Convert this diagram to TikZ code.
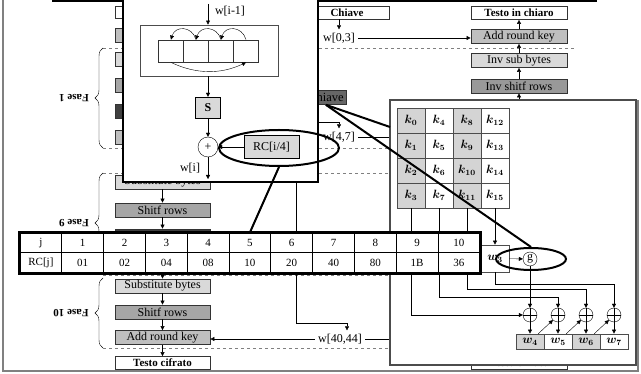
\documentclass[tikz,border=0pt]{standalone}
\usepackage{fontspec}
\setmainfont{Liberation Serif}
\usepackage{bm}
\usetikzlibrary{arrows.meta,calc,shapes.geometric,decorations.pathreplacing}

\definecolor{lgray}{gray}{0.85}
\definecolor{mgray}{gray}{0.65}
\definecolor{dgray}{gray}{0.25}
\definecolor{agray}{gray}{0.75}
\definecolor{igray}{gray}{0.6}
\definecolor{kgray}{gray}{0.4}
\definecolor{cgray}{gray}{0.83}

\begin{document}
\begin{tikzpicture}[x=1pt,y=-1pt,>={Triangle[length=4pt,width=4pt]},
   font=\fontsize{12}{13}\selectfont,
   box/.style={draw=black!80, line width=0.7pt, minimum width=95pt, minimum height=14pt, inner sep=0pt},
   titlebox/.style={box, fill=white, minimum height=13pt, font=\bfseries\fontsize{11}{12}\selectfont},
   cell/.style={draw=black!70, line width=0.7pt, minimum width=28pt, minimum height=25pt, inner sep=0pt},
   tcell/.style={draw, line width=1pt, fill=white, minimum width=41.8pt, minimum height=20pt, inner sep=0pt, font=\fontsize{11}{12}\selectfont},
   xorc/.style={circle, draw, minimum size=14pt, inner sep=0pt,
      path picture={\draw (path picture bounding box.north) -- (path picture bounding box.south)
                          (path picture bounding box.west) -- (path picture bounding box.east);}},
   sep/.style={dashed, gray, line width=0.5pt},
   fase/.style={rotate=180, font=\bfseries\fontsize{11}{12}\selectfont},
   zoomline/.style={line width=2pt}]

   \useasboundingbox (0,0) rectangle (641,374);

   \draw[line width=3pt] (52,1) -- (597,1);
   \draw[gray, line width=1.2pt] (3,0) -- (3,371) -- (638,371) -- (638,100);

   \foreach \y in {48,148,173,275,348}
      \draw[sep] (103,\y) -- (575,\y);

   \draw[decorate, decoration={brace,amplitude=8pt}] (103,148) -- (103,48);
   \draw[decorate, decoration={brace,amplitude=8pt}] (103,273) -- (103,173);
   \draw[decorate, decoration={brace,amplitude=8pt}] (103,348) -- (103,278);
   \node[fase] (f1) at (74,98) {Fase 1};
   \node[fase] (f9) at (74,223) {Fase 9};
   \node[fase] (f10) at (71,313) {Fase 10};

   % cifratura
   \node[titlebox, minimum height=12pt] (lt) at (162.5,12.5) {};
   \node[box, fill=agray] (la0) at (162.5,35.5) {};
   \node[box, fill=lgray] (l1s) at (162.5,59) {};
   \node[box, fill=mgray] (l1r) at (162.5,85) {};
   \node[box, fill=dgray] (l1m) at (162.5,111.5) {};
   \node[box, fill=agray] (l1a) at (162.5,137) {};
   \node[box, fill=lgray] (l9s) at (162.5,182) {Substitute bytes};
   \node[box, fill=mgray] (l9r) at (162.5,210) {Shitf rows};
   \node[box, fill=dgray] (l9m) at (162.5,236) {};
   \draw[->] (l9s) -- (l9r);
   \draw[->] (l9r) -- (l9m);
   \node[box, fill=lgray] (lxs) at (162.5,286) {Substitute bytes};
   \node[box, fill=mgray] (lxr) at (162.5,312) {Shitf rows};
   \node[box, fill=agray] (lxa) at (162.5,337.5) {Add round key};
   \node[titlebox] (lxc) at (162.5,363) {Testo cifrato};
   \draw[->] (lxs) -- (lxr);
   \draw[->] (lxr) -- (lxa);
   \draw[->] (lxa) -- (lxc);

   % decifratura
   \node[titlebox, minimum width=96pt] (rt) at (519,13) {Testo in chiaro};
   \node[box, minimum width=96pt, fill=agray] (ra) at (519,36.5) {Add round key};
   \node[box, minimum width=96pt, fill=lgray] (rs) at (519,60.5) {Inv sub bytes};
   \node[box, minimum width=96pt, fill=igray] (rr) at (519,86) {Inv shitf rows};
   \node[titlebox, minimum width=96pt] (rc) at (519,363) {Testo cifrato};
   \draw[->] (ra) -- (rt);
   \draw[->] (rs) -- (ra);
   \draw[->] (rr) -- (rs);

   % chiave
   \coordinate (kw) at (390,0);
   \node[titlebox, minimum width=84pt] (ch) at (347,12.5) {Chiave};
   \node (w03) at (339,38) {w[0,3]};
   \draw[->] (ch.south -| w03.north) -- (w03.north);
   \draw[->] (w03.east) -- (w03.east -| ra.west);
   \node[box, fill=kgray, minimum width=0pt, inner xsep=3pt, anchor=east, font=\fontsize{12.5}{13}\selectfont] (dk) at (347,97.5) {Chiave};
   \coordinate (fa) at (300,122);
   \node (w47) at (339,137) {w[4,7]};
   \draw[->] (fa) -| (w47.north);
   \draw (w47.east) -- (w47.east -| kw);
   \coordinate (ks) at (296,182);
   \node (w40) at (340,339) {w[40,44]};
   \draw[->] (ks) -- ++(0,141) -| ($(w40.north)+(7,0)$);
   \draw[->] (w40.west) -- (w40.west -| lxa.east);
   \draw (w40.east) -- (w40.east -| kw);

   % funzione g
   \node[draw, line width=2.5pt, fill=white, minimum width=195pt, minimum height=185pt] (gbox) at (220.5,89.5) {};
   \coordinate (wi1) at (208,4);
   \node[draw=black!70, line width=0.8pt, minimum width=138pt, minimum height=51pt] (rot) at (209,50.5) {};
   \foreach \i/\x in {1/171,2/196,3/221,4/246}
      \node[draw=black!80, line width=0.8pt, minimum width=25pt, minimum height=22pt] (c\i) at (\x,51) {};
   \draw[->] (wi1) -- (wi1 |- rot.north);
   \node (lwi) at (230,11) {w[i-1]};
   \foreach \a/\b in {2/1,3/2,4/3}
      \draw[->] (c\a.north) .. controls +(-4,-14) and +(4,-14) .. (c\b.north);
   \draw[->] (c1.south) .. controls +(25,12) and +(-25,12) .. (c4.south);
   \node[draw, fill=lgray, minimum width=25pt, minimum height=21pt, inner sep=0pt, font=\bfseries\fontsize{12}{13}\selectfont] (sb) at (208,107.5) {S};
   \draw[->] (rot.south -| sb.north) -- (sb.north);
   \node[circle, draw, minimum size=20pt, inner sep=0pt] (pl) at (208,147) {+};
   \draw[->] (sb) -- (pl);
   \node[draw, fill=lgray, minimum width=55pt, minimum height=23pt, inner sep=0pt] (rci) at (271.5,147) {RC[i/4]};
   \draw[->] (rci) -- (pl);
   \coordinate (wo) at (208,179);
   \draw[->] (pl) -- (wo);
   \node (lwo) at (190,168) {w[i]};

   % espansione chiave
   \node[draw=black!70, line width=2pt, fill=white, minimum width=246pt, minimum height=265pt] (kb) at (513,232.5) {};
   \draw[->] (kb.north -| rr.south) -- (rr.south);
   \foreach \c/\f in {0/cgray,1/white,2/cgray,3/white}
      \foreach \r in {0,...,3} {
         \pgfmathtruncatemacro\n{4*\c+\r}
         \node[cell, fill=\f] (k\n) at ({411+28*\c},{120.5+25*\r}) {$\bm{k_{\n}}$};
      }
   \node[cell, minimum height=27pt] (w3) at (495,258.5) {$\bm{w_3}$};
   \node[circle, draw, minimum size=14pt, inner sep=0pt] (g) at (530,259) {g};
   \draw[->] (k15) -- (w3);
   \draw[->] (w3) -- (g);
   \foreach \i/\x in {1/530,2/558,3/586,4/614}
      \node[xorc] (o\i) at (\x,315) {};
   \foreach \i/\x/\f in {4/530/cgray,5/558/white,6/586/cgray,7/614/white}
      \node[cell, minimum height=15pt, fill=\f] (w\i) at (\x,341.5) {$\bm{w_{\i}}$};
   \foreach \i/\j in {1/4,2/5,3/6,4/7}
      \draw[->] (o\i) -- (w\j);
   \draw[->] (g) -- (o1);
   \draw[->] (k3) |- (o1);
   \draw[->] (k7.south) -- ++(0,89) -| (o2.north);
   \draw[->] (k11.south) -- ++(0,81) -| (o3.north);
   \draw[->] (w3.south) -- ++(0,12) -| (o4.north);
   \foreach \a/\b in {4/2,5/3,6/4}
      \draw[->] ($(w\a.north east)+(-6,0)$) -- (o\b.south west);

   % tabella RC
   \foreach \t [count=\i from 0] in {j,1,2,3,4,5,6,7,8,9,10}
      \node[tcell] (t\i) at ({20+41.8*(\i+0.5)},243) {\t};
   \foreach \t [count=\i from 0] in {RC[j],01,02,04,08,10,20,40,80,1B,36}
      \node[tcell] (r\i) at ({20+41.8*(\i+0.5)},263) {\t};
   \draw[line width=2.5pt] (t0.north west) rectangle (r10.south east);
   \draw[->] (lxs.north |- r3.south) -- (lxs.north);

   % zoom
   \node[ellipse, draw, line width=2pt, minimum width=120pt, minimum height=36pt] (e1) at (279,148) {};
   \node[ellipse, draw, line width=2pt, minimum width=70pt, minimum height=22pt] (e2) at (531,259) {};
   \coordinate (kz) at (390,127);
   \draw[zoomline] (e1.south) -- (t5.north);
   \draw[zoomline] (dk.south) -- (kz);
   \draw[zoomline] (dk.south) -- (e2.north);
\end{tikzpicture}
\end{document}
